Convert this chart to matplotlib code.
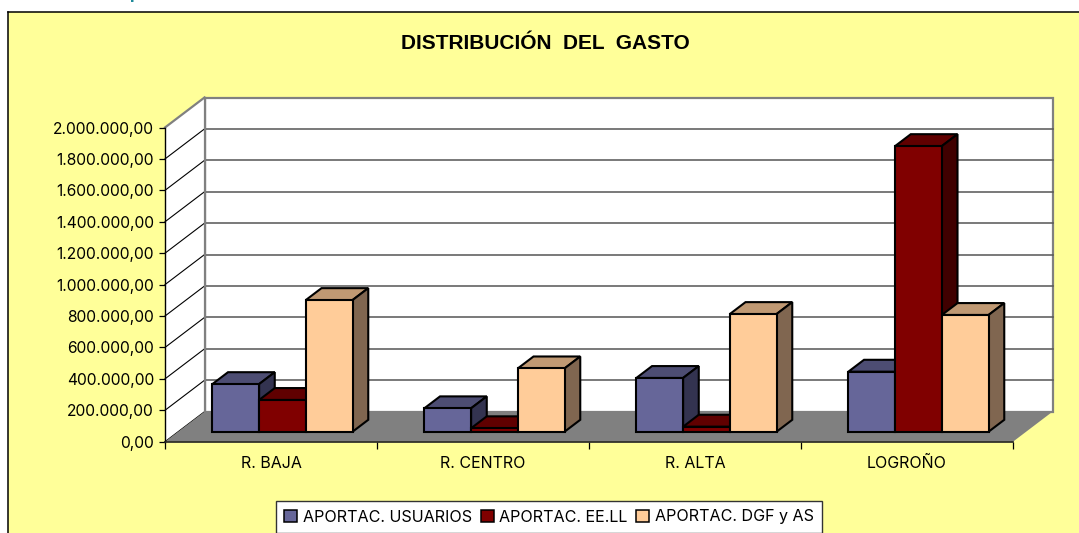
import matplotlib
matplotlib.use("Agg")
import matplotlib.pyplot as plt
import numpy as np
from matplotlib.lines import Line2D
from matplotlib.patches import Patch, Polygon, Rectangle

plt.rcParams["font.family"] = ["Inter", "Liberation Sans", "DejaVu Sans"]

categories = ["R. BAJA", "R. CENTRO", "R. ALTA", "LOGROÑO"]
series_names = ["APORTAC. USUARIOS", "APORTAC. EE.LL", "APORTAC. DGF y AS"]
usuarios = [303000, 149000, 342000, 382000]
eell = [202000, 22000, 32000, 1818000]
dgf = [838000, 403000, 749000, 743000]
y_ticks = [0, 200000, 400000, 600000, 800000, 1000000, 1200000, 1400000,
           1600000, 1800000, 2000000]

front_colors = ["#666699", "#800000", "#FFCC99"]
top_colors = ["#4D4D73", "#600000", "#C09973"]
side_colors = ["#333350", "#400000", "#806650"]

W, H = 1079, 533
# front plane of the chart, in pixels from top left
X0, X1, Y0, Y1 = 165, 1013, 441.7, 127.5
DEPTH_PX = (39.5, 30)

fig = plt.figure(figsize=(W / 100, H / 100), dpi=100, facecolor="white")

# yellow chart area, cut off on the right and at the bottom
fig.patches.append(Rectangle((8 / W, 0), 1, 1 - 12 / H, transform=fig.transFigure,
                             facecolor="#FFFF99", edgecolor="none", zorder=-5))
fig.add_artist(Line2D([8 / W, 1], [1 - 12 / H] * 2, color="black", lw=1.1))
fig.add_artist(Line2D([8 / W] * 2, [0, 1 - 12 / H], color="black", lw=1.1))
fig.text(135 / W, 1 + 1.5 / H, "p", color="#1F8A9A", fontsize=12, fontweight="bold",
         ha="center", va="baseline")

ax = fig.add_axes([X0 / W, 1 - Y0 / H, (X1 - X0) / W, (Y0 - Y1) / H])
ax.set_xlim(0, len(categories))
ax.set_ylim(0, y_ticks[-1])
ax.patch.set_visible(False)

dx = DEPTH_PX[0] / (X1 - X0) * len(categories)
dy = DEPTH_PX[1] / (Y0 - Y1) * y_ticks[-1]


def pt(x, y, d):
    # oblique projection: d = 0 front of the floor, d = 1 back wall
    return (x + d * dx, y + d * dy)


def poly(points, face, edge="black", lw=1.5, z=1):
    ax.add_patch(Polygon(points, closed=True, facecolor=face, edgecolor=edge, lw=lw,
                         joinstyle="miter", clip_on=False, zorder=z))


top = y_ticks[-1]
right = len(categories)

# walls and floor
poly([pt(0, 0, 1), pt(right, 0, 1), pt(right, top, 1), pt(0, top, 1)], "white", "#808080", 1.6)
poly([pt(0, 0, 0), pt(0, 0, 1), pt(0, top, 1), pt(0, top, 0)], "white", "none", 0)
for v in y_ticks[1:-1]:
    ax.plot(*zip(pt(0, v, 1), pt(right, v, 1)), color="#555555", lw=1.1, clip_on=False, zorder=1)
for v in y_ticks[:-1]:
    ax.plot(*zip(pt(0, v, 0), pt(0, v, 1)), color="black", lw=0.8, clip_on=False, zorder=1)
ax.plot(*zip(pt(0, top, 0), pt(0, top, 1)), color="#808080", lw=1.6, clip_on=False, zorder=1)
ax.plot(*zip(pt(0, 0, 1), pt(0, top, 1)), color="#808080", lw=1.6, clip_on=False, zorder=1)
poly([pt(0, 0, 0), pt(right, 0, 0), pt(right, 0, 1), pt(0, 0, 1)], "#808080", "none", 0)

# bars, painted left to right so that later ones cover earlier ones
bar_w = 0.2205
gap = (1 - 3 * bar_w) / 2 - 0.008
d_front, d_back = 1 / 3, 0.73
for i in range(len(categories)):
    for j, values in enumerate([usuarios, eell, dgf]):
        x = i + gap + j * bar_w
        v = values[i]
        poly([pt(x, v, d_front), pt(x + bar_w, v, d_front),
              pt(x + bar_w, v, d_back), pt(x, v, d_back)], top_colors[j], z=2)
        poly([pt(x + bar_w, 0, d_front), pt(x + bar_w, 0, d_back),
              pt(x + bar_w, v, d_back), pt(x + bar_w, v, d_front)], side_colors[j], z=2)
        poly([pt(x, 0, d_front), pt(x + bar_w, 0, d_front),
              pt(x + bar_w, v, d_front), pt(x, v, d_front)], front_colors[j], z=2)

for s in ["top", "right"]:
    ax.spines[s].set_visible(False)
ax.spines["left"].set_linewidth(1.0)
ax.spines["bottom"].set_linewidth(1.2)
ax.spines["bottom"].set_color("#222222")

ax.set_yticks(y_ticks)
ax.set_yticklabels([f"{v:,.2f}".replace(",", "X").replace(".", ",").replace("X", ".") for v in y_ticks],
                   fontsize=11.2)
ax.tick_params(axis="y", length=4, width=0.9, pad=4)
ax.set_xticks(np.arange(len(categories) + 1))
ax.set_xticklabels([])
ax.set_xticks(np.arange(len(categories)) + 0.5, minor=True)
ax.set_xticklabels(categories, minor=True, fontsize=11.5)
ax.tick_params(axis="x", which="major", length=5, width=0.9)
ax.tick_params(axis="x", which="minor", length=0, pad=10)

fig.text(545.5 / W, 1 - 43 / H, "DISTRIBUCIÓN  DEL  GASTO", fontsize=15, fontweight="bold",
         family=["Liberation Sans"], ha="center", va="center")

handles = [Patch(facecolor=c, edgecolor="black", lw=1.1) for c in front_colors]
fig.legend(handles, series_names, ncol=3, loc="center", bbox_to_anchor=(549 / W, 1 - 517 / H),
           frameon=True, fancybox=False, facecolor="white", edgecolor="#333333", framealpha=1,
           fontsize=11.6, handlelength=0.8, handleheight=0.8, handletextpad=0.35,
           columnspacing=0.55, borderpad=0.5, borderaxespad=0)

fig.savefig("out.png", dpi=100)
